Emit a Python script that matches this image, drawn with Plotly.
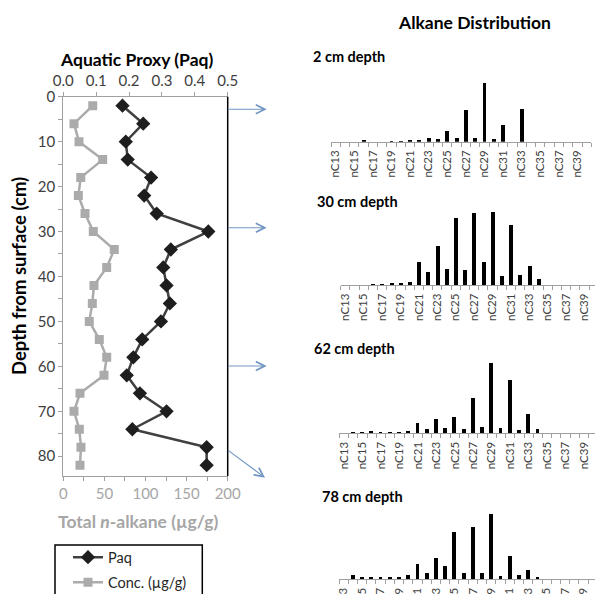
import plotly.graph_objects as go

# ---------------- data ----------------
depth_cm = [2, 6, 10, 14, 18, 22, 26, 30, 34, 38, 42, 46, 50, 54, 58, 62, 66, 70, 74, 78, 82]
paq = [0.18, 0.243, 0.19, 0.196, 0.267, 0.246, 0.284, 0.441, 0.327, 0.304, 0.314,
       0.324, 0.297, 0.240, 0.213, 0.193, 0.233, 0.314, 0.210, 0.436, 0.436]
conc_ug_g = [35.8, 13, 19.1, 47.9, 21.2, 18.3, 26.4, 36.5, 62, 52.8, 37.3,
             35.3, 31.6, 43.8, 52.8, 49.5, 20.3, 13, 19.5, 21.5, 20.3]

carbon_number = list(range(13, 41))          # nC13 .. nC40
tick_carbons = list(range(13, 40, 2))        # labelled: nC13, nC15, ... nC39
tick_labels = ["nC%d" % c for c in tick_carbons]

# relative abundance (arbitrary units) for nC13..nC40
dist_2cm = [0, 0, 0, 5, 0, 0, 2, 3, 5, 5, 12, 8, 32, 12, 95, 12, 178, 8, 50, 0, 100,
            0, 0, 0, 0, 0, 0, 0]
dist_30cm = [0, 0, 0, 2, 3, 4, 5, 9, 68, 40, 116, 48, 200, 45, 215, 68, 218, 28, 180, 30, 57,
             17, 0, 0, 0, 0, 0, 0]
dist_62cm = [0, 3, 3, 6, 3, 3, 3, 6, 30, 12, 42, 15, 48, 12, 105, 18, 210, 15, 160, 8, 57,
             12, 0, 0, 0, 0, 0, 0]
dist_78cm = [0, 12, 4, 7, 4, 6, 7, 11, 45, 19, 63, 40, 140, 19, 155, 19, 196, 10, 69, 13, 28,
             7, 0, 0, 0, 0, 0, 0]
panel_titles = ["2 cm depth", "30 cm depth", "62 cm depth", "78 cm depth"]
panel_values = [dist_2cm, dist_30cm, dist_62cm, dist_78cm]

# ---------------- layout helpers ----------------
W, H = 595, 594
def px(x):
    return x / W
def py(y):
    return 1 - y / H

FONT = "Lato"
GREY_AX = "#a0a0a0"
DARK = "#262626"

fig = go.Figure()

fig.add_trace(go.Scatter(
    x=paq, y=depth_cm, xaxis="x2", yaxis="y", name="Paq", legend="legend",
    mode="lines+markers",
    line=dict(color="#404040", width=2.5),
    marker=dict(symbol="diamond", size=11, color="#1e1e1e"),
))
fig.add_trace(go.Scatter(
    x=conc_ug_g, y=depth_cm, xaxis="x", yaxis="y", name="Conc. (µg/g)", legend="legend2",
    mode="lines+markers",
    line=dict(color="#ababab", width=2.5),
    marker=dict(symbol="square", size=9, color="#ababab"),
))

# bar panels: (left px of axis, px per category, axis line y px)
panel_geom = [(331.0, 9.3, 141.7), (340.7, 9.2, 285.0), (339.4, 9.23, 433.3), (339.0, 9.23, 579.3)]
bar_h_px = 80
bar_units_per_px = 3.0

layout_axes = {}
annotations = []
for i, (vals, title, (xl, ppc, ay)) in enumerate(zip(panel_values, panel_titles, panel_geom)):
    n = i + 3
    xa, ya = "x%d" % n, "y%d" % n
    fig.add_trace(go.Bar(
        x=carbon_number, y=vals, xaxis=xa, yaxis=ya, width=0.42,
        marker=dict(color="black", line=dict(width=0)), showlegend=False,
    ))
    x_right = min(xl + ppc * 28, W)
    rng_end = 12.5 + (x_right - xl) / ppc
    layout_axes["xaxis%d" % n] = dict(
        domain=[px(xl), px(x_right)], range=[12.5, rng_end], anchor=ya,
        showline=True, linecolor=GREY_AX, linewidth=1,
        tickmode="array", tickvals=tick_carbons, ticktext=tick_labels,
        ticks="", tickangle=-90, tickfont=dict(family=FONT, size=11.5, color="#404040"),
        ticklabelstandoff=3,
        showgrid=False, zeroline=False,
        minor=dict(tickmode="linear", tick0=12.5, dtick=1, ticks="outside",
                   ticklen=4, tickcolor=GREY_AX, showgrid=False),
    )
    layout_axes["yaxis%d" % n] = dict(
        domain=[py(ay), py(ay - bar_h_px)], range=[0, bar_h_px * bar_units_per_px],
        anchor=xa, visible=False,
    )

title_pos = [(311, 56), (315, 201.7), (311.7, 348.3), (320, 496)]
for t, (tx, ty) in zip(panel_titles, title_pos):
    annotations.append(dict(text="<b>%s</b>" % t, x=px(tx), y=py(ty), xref="paper", yref="paper",
                            xanchor="left", yanchor="middle", showarrow=False,
                            font=dict(family=FONT, size=14.5, color="black")))

annotations += [
    dict(text="<b>Alkane Distribution</b>", x=px(474.7), y=py(22.7), xref="paper", yref="paper",
         xanchor="center", yanchor="middle", showarrow=False,
         font=dict(family=FONT, size=17.5, color="black")),
    dict(text="<b>Aquatic Proxy (Paq)</b>", x=px(136.5), y=py(60), xref="paper", yref="paper",
         xanchor="center", yanchor="middle", showarrow=False,
         font=dict(family=FONT, size=17.5, color="black")),
    dict(text="<b>Total <i>n</i>-alkane (µg/g)</b>", x=px(137.5), y=py(521), xref="paper", yref="paper",
         xanchor="center", yanchor="middle", showarrow=False,
         font=dict(family=FONT, size=17.5, color="#a6a6a6")),
    dict(text="<b>Depth from surface (cm)</b>", x=px(19), y=py(276), xref="paper", yref="paper",
         xanchor="center", yanchor="middle", showarrow=False, textangle=-90,
         font=dict(family=FONT, size=18.5, color="black")),
]

# connector arrows: (tail x, tail y, head x, head y) in px
arrows = [(226.7, 109.3, 266.7, 109.3), (226.7, 227.7, 266.7, 227.7),
          (226.7, 366.0, 266.7, 366.0), (226.7, 449.3, 265.0, 477.7)]
for (tx, ty, hx, hy) in arrows:
    annotations.append(dict(x=px(hx), y=py(hy), xref="paper", yref="paper",
                            ax=tx - hx, ay=ty - hy, axref="pixel", ayref="pixel",
                            showarrow=True, arrowhead=5, arrowsize=1.6, arrowwidth=1.1,
                            arrowcolor="#7096c4", text=""))

shapes = [
    # right border of depth plot
    dict(type="line", xref="paper", yref="paper", x0=px(227.7), x1=px(227.7),
         y0=py(96.7), y1=py(476), line=dict(color="black", width=1.5)),
    # legend box
    dict(type="rect", xref="paper", yref="paper", x0=px(55), x1=px(202.3),
         y0=py(545), y1=py(610), line=dict(color="black", width=1.5)),
]

leg_common = dict(xanchor="left", yanchor="middle", bgcolor="rgba(0,0,0,0)", borderwidth=0,
                  font=dict(family=FONT, size=14.5, color=DARK), itemwidth=30,
                  tracegroupgap=0)

fig.update_layout(
    width=W, height=H,
    margin=dict(l=0, r=0, t=0, b=0, autoexpand=False),
    paper_bgcolor="white", plot_bgcolor="rgba(0,0,0,0)",
    font=dict(family=FONT, size=13, color=DARK),
    xaxis=dict(domain=[px(63.3), px(227.7)], range=[0, 200], anchor="y", side="bottom",
               showline=True, linecolor=GREY_AX, linewidth=1.2,
               dtick=50, ticks="outside", ticklen=4, tickcolor=GREY_AX,
               minor=dict(dtick=25, ticks="outside", ticklen=4, tickcolor=GREY_AX),
               tickfont=dict(family=FONT, size=15, color="#a6a6a6"),
               showgrid=False, zeroline=False),
    xaxis2=dict(overlaying="x", side="top", range=[0, 0.5], anchor="y",
                showline=True, linecolor=GREY_AX, linewidth=1.2,
                dtick=0.1, tickformat=".1f", ticks="outside", ticklen=4, tickcolor=GREY_AX,
                tickfont=dict(family=FONT, size=15, color="#404040"),
                showgrid=False, zeroline=False),
    yaxis=dict(domain=[py(476), py(96.7)], range=[84.4, 0], anchor="x",
               showline=True, linecolor=GREY_AX, linewidth=1.2,
               dtick=10, ticks="outside", ticklen=4, tickcolor=GREY_AX,
               minor=dict(dtick=5, ticks="outside", ticklen=4, tickcolor=GREY_AX),
               tickfont=dict(family=FONT, size=15, color="#404040"),
               showgrid=False, zeroline=False),
    showlegend=True,
    legend=dict(x=px(68), y=py(557.3), **leg_common),
    legend2=dict(x=px(68), y=py(582.3), **leg_common),
    annotations=annotations,
    shapes=shapes,
    bargap=0,
    **layout_axes,
)

fig.write_html("out.html")
